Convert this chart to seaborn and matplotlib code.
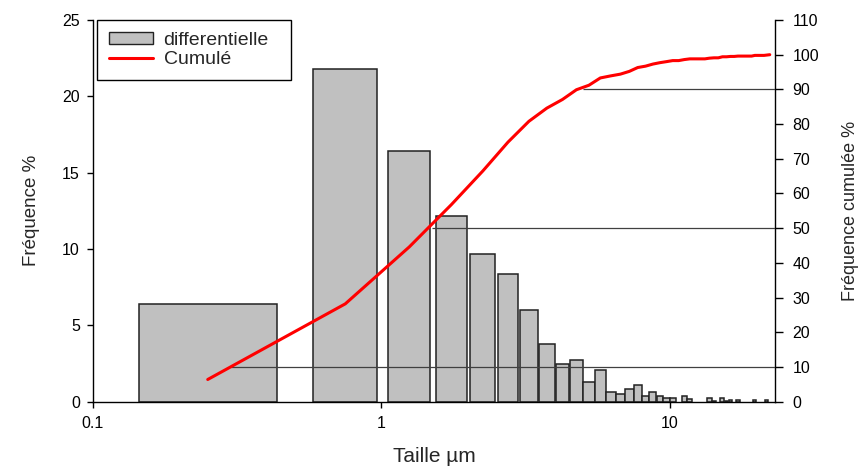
import numpy as np
import matplotlib
matplotlib.use("Agg")
import matplotlib.pyplot as plt
import seaborn as sns
import pandas as pd
from matplotlib.patches import Patch
from matplotlib.lines import Line2D

# ---- data ----
bin_centers = [0.25, 0.75, 1.25, 1.75, 2.25, 2.75, 3.25, 3.75, 4.25, 4.75,
               5.25, 5.75, 6.25, 6.75, 7.25, 7.75, 8.25, 8.75, 9.25, 9.75,
               10.25, 10.75, 11.25, 11.75, 12.25, 12.75, 13.25, 13.75, 14.25, 14.75,
               15.25, 15.75, 16.25, 16.75, 17.25, 17.75, 18.25, 18.75, 19.25, 19.75,
               20.25, 20.75, 21.25, 21.75, 22.25]
frequence = [6.40, 21.78, 16.40, 12.19, 9.68, 8.35, 6.01, 3.80, 2.50, 2.75,
             1.31, 2.08, 0.66, 0.50, 0.81, 1.07, 0.39, 0.66, 0.39, 0.26,
             0.26, 0.00, 0.39, 0.16, 0.00, 0.00, 0.00, 0.24, 0.07, 0.00,
             0.24, 0.07, 0.11, 0.00, 0.11, 0.00, 0.00, 0.00, 0.00, 0.11,
             0.00, 0.00, 0.00, 0.11, 0.00]
cumule = [6.4, 28.2, 44.6, 56.8, 66.5, 74.8, 80.8, 84.6, 87.1, 89.9,
          91.2, 93.3, 93.9, 94.4, 95.2, 96.3, 96.7, 97.3, 97.7, 98.0,
          98.3, 98.3, 98.6, 98.8, 98.8, 98.8, 98.8, 99.0, 99.1, 99.1,
          99.4, 99.4, 99.5, 99.5, 99.6, 99.6, 99.6, 99.6, 99.6, 99.8,
          99.8, 99.8, 99.8, 99.9, 100.0]
d_levels = [10, 50, 90]
d_sizes = [0.30, 1.50, 5.01]
x_ticks = [0.1, 1, 10]
x_ticklabels = ["0.1", "1", "10"]
y_left_ticks = [0, 5, 10, 15, 20, 25]
y_right_ticks = [0, 10, 20, 30, 40, 50, 60, 70, 80, 90, 100, 110]

# ---- style ----
sns.set_style("ticks")
plt.rcParams["font.family"] = ["Liberation Sans", "DejaVu Sans"]

W, H = 859, 467
fig = plt.figure(figsize=(W / 100, H / 100), dpi=100)
ax = fig.add_axes([93 / W, 1 - 401.7 / H, (775 - 93) / W, (401.7 - 20) / H])
ax2 = ax.twinx()

# bar edges in log space (each bar spans the log-gap to the next centre)
c = np.array(bin_centers)
ratios = np.append(c[1:] / c[:-1], c[-1] / c[-2])
lefts = c / np.sqrt(ratios)
rights = c * np.sqrt(ratios)
mask = np.array(frequence) > 0
ax.bar(lefts[mask], np.array(frequence)[mask], width=(rights - lefts)[mask],
       align="edge", color="#c0c0c0", edgecolor="#222222", linewidth=1.1, zorder=2)

ax.set_xscale("log")
ax.set_xlim(0.1, 23.2)
ax.set_ylim(0, 25)
ax2.set_ylim(0, 110)

# reference lines d10 / d50 / d90
ax2.hlines(d_levels, d_sizes, 23.2, colors="#404040", linewidth=0.9, zorder=3)

df = pd.DataFrame({"taille": bin_centers, "cumule": cumule})
sns.lineplot(data=df, x="taille", y="cumule", ax=ax2, color="#ff0000",
             linewidth=2.2, zorder=4, legend=False)
ax2.set_xscale("log")
ax2.set_xlim(0.1, 23.2)

ax.set_xticks(x_ticks)
ax.set_xticklabels(x_ticklabels)
ax.xaxis.set_minor_locator(matplotlib.ticker.NullLocator())
ax2.xaxis.set_minor_locator(matplotlib.ticker.NullLocator())
ax.set_yticks(y_left_ticks)
ax2.set_yticks(y_right_ticks)

ax.tick_params(axis="x", labelsize=11.5, length=4.5, width=1, pad=5.5,
               color="black", labelcolor="black", direction="out")
ax.tick_params(axis="y", labelsize=11.5, length=4.5, width=1, pad=5,
               color="black", labelcolor="black", direction="out")
ax2.tick_params(axis="y", labelsize=11.5, length=5.5, width=1, pad=7,
                color="black", labelcolor="black", direction="out")

for a in (ax, ax2):
    a.spines["top"].set_visible(False)
    for s in ("left", "right", "bottom"):
        a.spines[s].set_color("black")
        a.spines[s].set_linewidth(1.0)
ax.spines["right"].set_visible(False)
ax2.spines["left"].set_visible(False)
ax2.spines["bottom"].set_visible(False)
ax2.spines["right"].set_visible(True)

ax.set_xlabel("Taille µm", fontsize=15, labelpad=12)
ax.set_ylabel("Fréquence %", fontsize=13.5, labelpad=16)
ax2.set_ylabel("Fréquence cumulée %", fontsize=13, labelpad=16.5)

handles = [Patch(facecolor="#c0c0c0", edgecolor="#222222", linewidth=1.0),
           Line2D([0], [0], color="#ff0000", linewidth=2.2)]
leg = ax2.legend(handles, ["differentielle", "Cumulé"], loc="upper left",
                 bbox_to_anchor=(0.006, 0.5, 0.2845, 0.5), mode="expand",
                 borderaxespad=0, fontsize=14,
                 frameon=True, fancybox=False, handlelength=2.25, handleheight=0.6,
                 handletextpad=0.55, borderpad=0.62, labelspacing=0.1)
leg.get_frame().set_edgecolor("black")
leg.get_frame().set_linewidth(1.0)
leg.get_frame().set_alpha(1)

fig.savefig("out.png", dpi=100)
